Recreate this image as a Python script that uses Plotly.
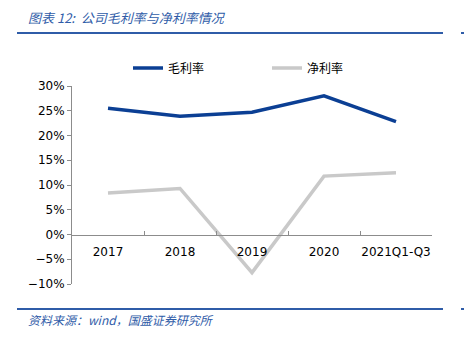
import plotly.graph_objects as go

categories = ["2017", "2018", "2019", "2020", "2021Q1-Q3"]
gross_margin = [25.5, 23.9, 24.7, 28.0, 22.8]
net_margin = [8.4, 9.3, -7.7, 11.8, 12.5]
series_names = ["毛利率", "净利率"]
title_text = "图表 12:  公司毛利率与净利率情况"
source_text = "资料来源：wind，国盛证券研究所"

W, H = 464, 341
L, R, T, B = 72, 32, 86, 57
PW, PH = W - L - R, H - T - B

def px(x):
    return (x - L) / PW

def py(y):
    return (H - B - y) / PH

BLUE = "#0b3f94"
GRAY = "#c9c9c9"
DECO = "#2f5ca8"
CJK = "Noto Sans CJK SC"

fig = go.Figure()
fig.add_trace(go.Scatter(x=categories, y=gross_margin, name=series_names[0], mode="lines",
                         line=dict(color=BLUE, width=3.5)))
fig.add_trace(go.Scatter(x=categories, y=net_margin, name=series_names[1], mode="lines",
                         line=dict(color=GRAY, width=3.5)))

fig.update_layout(
    width=W, height=H,
    margin=dict(l=L, r=R, t=T, b=B),
    paper_bgcolor="white", plot_bgcolor="white",
    font=dict(family="DejaVu Sans", size=12, color="#000000"),
    showlegend=True,
    legend=dict(orientation="h", x=px(128), xanchor="left", y=py(68), yanchor="middle",
                font=dict(family=CJK, size=12, color="#000000"),
                entrywidth=94, entrywidthmode="pixels", itemwidth=30,
                bgcolor="rgba(0,0,0,0)"),
    xaxis=dict(type="category", range=[-0.5, 4.5], anchor="free", position=0.25,
               showline=True, linecolor="#8c8c8c", linewidth=1,
               ticks="inside", ticklen=4, tickcolor="#8c8c8c", tickson="boundaries",
               showgrid=False, zeroline=False, ticklabelstandoff=6, tickangle=0,
               tickfont=dict(family="DejaVu Sans", size=12, color="#000000")),
    yaxis=dict(range=[-10, 30], dtick=5, tick0=0, ticksuffix="%",
               showline=True, linecolor="#8c8c8c", linewidth=1,
               ticks="outside", ticklen=4, tickcolor="#8c8c8c",
               showgrid=False, zeroline=False,
               tickfont=dict(family="DejaVu Sans", size=12, color="#000000")),
)

shapes = [
    dict(type="line", xref="paper", yref="paper", x0=px(17), x1=px(443), y0=py(33), y1=py(33),
         line=dict(color=DECO, width=2)),
    dict(type="line", xref="paper", yref="paper", x0=px(461), x1=px(466), y0=py(33), y1=py(33),
         line=dict(color=DECO, width=2)),
    dict(type="line", xref="paper", yref="paper", x0=px(17), x1=px(443), y0=py(309), y1=py(309),
         line=dict(color=DECO, width=2)),
    dict(type="line", xref="paper", yref="paper", x0=px(461), x1=px(466), y0=py(309), y1=py(309),
         line=dict(color=DECO, width=2)),
]
fig.update_layout(shapes=shapes)

fig.add_annotation(text=title_text, xref="paper", yref="paper", x=px(26), y=py(17),
                   xanchor="left", yanchor="middle", showarrow=False,
                   font=dict(family=CJK, size=13, color=DECO, style="italic"))
fig.add_annotation(text=source_text, xref="paper", yref="paper", x=px(26), y=py(319),
                   xanchor="left", yanchor="middle", showarrow=False,
                   font=dict(family=CJK, size=12, color=DECO, style="italic"))

fig.write_html("out.html")
